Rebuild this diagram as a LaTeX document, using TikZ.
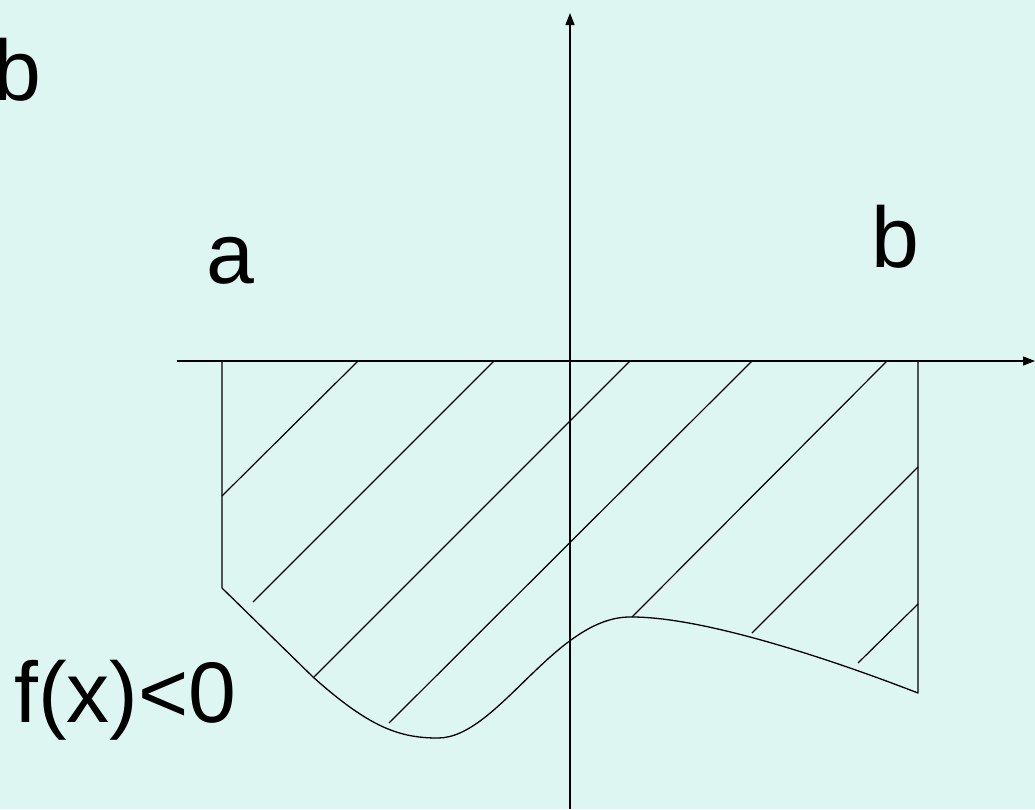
\documentclass[tikz,border=0pt]{standalone}
\usepackage{fontspec}
\setmainfont{Liberation Sans}
\usetikzlibrary{arrows.meta}
\definecolor{bgcyan}{RGB}{222,246,242}
\tikzset{
  axis/.style={line width=1.3pt, -{Triangle[width=9pt,length=12pt]}},
  edge/.style={line width=1.3pt, line join=round},
  hatch/.style={line width=1.2pt},
  lbl/.style={inner sep=0pt, font=\fontsize{86}{100}\selectfont}
}
\begin{document}
\begin{tikzpicture}[x=1pt,y=-1pt]
\useasboundingbox (0,0) rectangle (1035,809);
\clip (0,0) rectangle (1035,809);
\fill[bgcyan] (0,0) rectangle (1035,809);
% axes
\coordinate (xs) at (177,361);
\coordinate (xe) at (1035,361);
\coordinate (ys) at (570,809);
\coordinate (ye) at (570,13);
\draw[axis] (xs) -- (xe);
\draw[axis] (ys) -- (ye);
% region boundary
\coordinate (A0) at (222,361);
\coordinate (A1) at (222,588);
\coordinate (A2) at (313,677);
\coordinate (M) at (438,738);
\coordinate (P) at (632,617);
\coordinate (B1) at (918,693);
\coordinate (B0) at (918,361);
\draw[edge] (A0) -- (A1) -- (A2)
  .. controls (370,728) and (400,738) .. (M)
  .. controls (498,738) and (556,615) .. (P)
  .. controls (700,617) and (820,655) .. (B1) -- (B0);
% hatching
\draw[hatch] (222,496) -- (358,361);
\draw[hatch] (253,602) -- (494,361);
\draw[hatch] (314,677) -- (630,361);
\draw[hatch] (389,723) -- (752,361);
\draw[hatch] (632,617) -- (887,361);
\draw[hatch] (752,633) -- (918,467);
\draw[hatch] (858,663) -- (918,604);
% labels
\node[lbl, anchor=base west] (ptop) at (41,-18) {)};
\node[lbl, anchor=base west] (btop) at (-6.7,100) {b};
\node[lbl, anchor=base] (la) at (230,283) {a};
\node[lbl, anchor=base] (lb) at (895,267) {b};
\node[lbl, anchor=base west] (lf) at (14,722) {f(x)<0};
\end{tikzpicture}
\end{document}
